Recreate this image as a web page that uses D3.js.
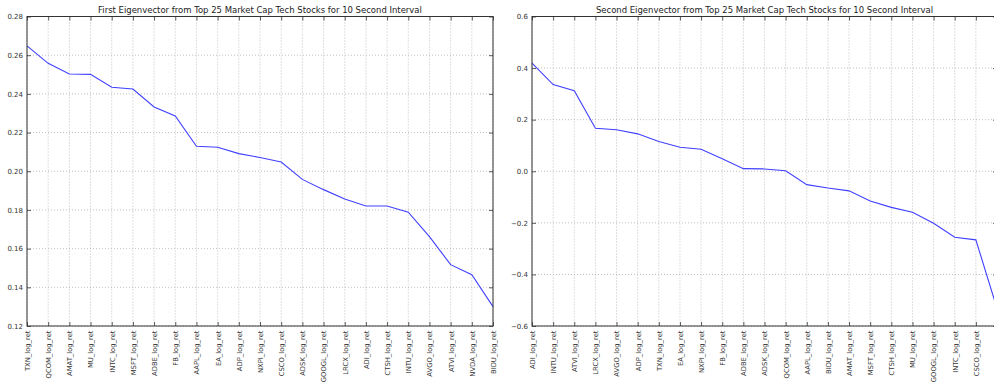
<!DOCTYPE html>
<html>
<head>
<meta charset="utf-8">
<script src="https://cdn.jsdelivr.net/npm/d3@7"></script>
<style>
  html, body { margin: 0; padding: 0; background: #fff; }
  svg { display: block; font-family: "DejaVu Sans", sans-serif; }
</style>
</head>
<body>
<svg id="chart" width="994" height="383"></svg>
<script>
// Loadings of the first two eigenvectors, ordered by loading within each vector
const firstTickers = ["TXN", "QCOM", "AMAT", "MU", "INTC", "MSFT", "ADBE", "FB", "AAPL", "EA", "ADP", "NXPI",
  "CSCO", "ADSK", "GOOGL", "LRCX", "ADI", "CTSH", "INTU", "AVGO", "ATVI", "NVDA", "BIDU"];
const firstValues = [0.2648, 0.2558, 0.2503, 0.2501, 0.2434, 0.2425, 0.2332, 0.2286, 0.2129, 0.2124, 0.2091, 0.2071,
  0.2048, 0.1958, 0.1905, 0.1857, 0.1820, 0.1820, 0.1788, 0.1662, 0.1517, 0.1465, 0.1300];

const secondTickers = ["ADI", "INTU", "ATVI", "LRCX", "AVGO", "ADP", "TXN", "EA", "NXPI", "FB", "ADBE", "ADSK",
  "QCOM", "AAPL", "BIDU", "AMAT", "MSFT", "CTSH", "MU", "GOOGL", "INTC", "CSCO", "NVDA"];
const secondValues = [0.419, 0.336, 0.312, 0.167, 0.161, 0.145, 0.115, 0.093, 0.085, 0.048, 0.010, 0.009,
  0.002, -0.052, -0.065, -0.076, -0.115, -0.140, -0.159, -0.202, -0.256, -0.266, -0.532];

const firstYTicks = [0.12, 0.14, 0.16, 0.18, 0.20, 0.22, 0.24, 0.26, 0.28];
const secondYTicks = [-0.6, -0.4, -0.2, 0.0, 0.2, 0.4, 0.6];

const firstTitle = "First Eigenvector from Top 25 Market Cap Tech Stocks for 10 Second Interval";
const secondTitle = "Second Eigenvector from Top 25 Market Cap Tech Stocks for 10 Second Interval";

const svg = d3.select("#chart");
const plotTop = 16.5, plotBottom = 326;
const fmtMinus = s => s.replace("-", "\u2212");

function panel(opts) {
  const { x0, x1, tickers, values, yTicks, yFmt, title } = opts;
  const g = svg.append("g");
  const x = d3.scalePoint().domain(d3.range(tickers.length)).range([x0, x1]);
  const y = d3.scaleLinear().domain(d3.extent(yTicks)).range([plotBottom, plotTop]);

  // dotted grid
  const grid = g.append("g").attr("stroke", "#b0b0b0").attr("stroke-width", 0.8)
    .attr("stroke-dasharray", "1,2");
  grid.selectAll("line.vx").data(d3.range(tickers.length)).join("line").attr("class", "vx")
    .attr("x1", d => x(d)).attr("x2", d => x(d)).attr("y1", plotTop).attr("y2", plotBottom);
  grid.selectAll("line.hy").data(yTicks).join("line").attr("class", "hy")
    .attr("x1", x0).attr("x2", x1).attr("y1", d => y(d)).attr("y2", d => y(d));

  // line
  const line = d3.line().x((d, i) => x(i)).y(d => y(d));
  g.append("path").datum(values).attr("d", line)
    .attr("fill", "none").attr("stroke", "#4040ff").attr("stroke-width", 1.1);

  // axes with inward ticks on all sides
  const tl = 4;
  const axL = d3.axisLeft(y).tickValues(yTicks).tickSize(-tl).tickPadding(4)
    .tickFormat(d => fmtMinus(yFmt(d)));
  const gl = g.append("g").attr("transform", `translate(${x0},0)`).call(axL);
  const axR = d3.axisRight(y).tickValues(yTicks).tickSize(-tl).tickFormat("");
  g.append("g").attr("transform", `translate(${x1},0)`).call(axR);
  const axB = d3.axisBottom(x).tickSize(-tl).tickFormat(i => tickers[i] + "_log_ret");
  const gb = g.append("g").attr("transform", `translate(0,${plotBottom})`).call(axB);
  const axT = d3.axisTop(x).tickSize(-tl).tickFormat("");
  g.append("g").attr("transform", `translate(0,${plotTop})`).call(axT);

  g.selectAll(".domain").remove();
  g.selectAll(".tick line").attr("stroke", "#333").attr("stroke-width", 0.8);
  gl.selectAll("text").attr("font-size", 7).attr("fill", "#333")
    .attr("font-family", "DejaVu Sans");
  gb.selectAll("text").attr("font-size", 6.8).attr("fill", "#333")
    .attr("font-family", "DejaVu Sans")
    .attr("transform", "rotate(-90)")
    .attr("text-anchor", "end").attr("dy", "0.35em").attr("x", -4.5).attr("y", 0);

  // frame
  g.append("rect").attr("x", x0).attr("y", plotTop).attr("width", x1 - x0).attr("height", plotBottom - plotTop)
    .attr("fill", "none").attr("stroke", "#333").attr("stroke-width", 1);

  // title, sized afterwards so the first title spans about 324px
  const t = g.append("text").attr("x", (x0 + x1) / 2).attr("y", 12.5).attr("text-anchor", "middle")
    .attr("font-size", 10).attr("fill", "#222").text(title);
  return t;
}

const t1 = panel({ x0: 27, x1: 493, tickers: firstTickers, values: firstValues, yTicks: firstYTicks,
  yFmt: d3.format(".2f"), title: firstTitle });
const t2 = panel({ x0: 532, x1: 997, tickers: secondTickers, values: secondValues, yTicks: secondYTicks,
  yFmt: d3.format(".1f"), title: secondTitle });
const titleSize = Math.min(9.5, Math.max(7, 10 * 324 / t1.node().getComputedTextLength()));
t1.attr("font-size", titleSize);
t2.attr("font-size", titleSize);
</script>
</body>
</html>
